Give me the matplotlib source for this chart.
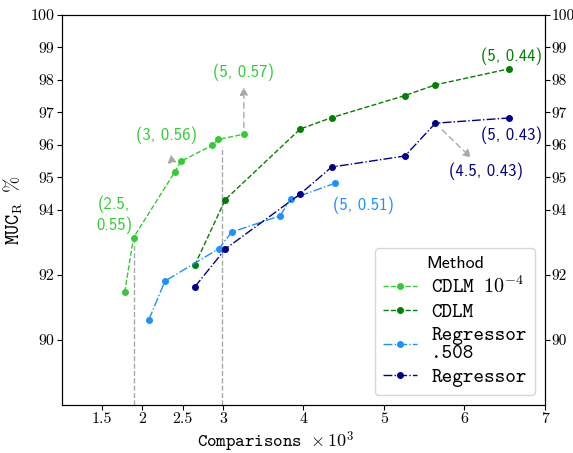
import matplotlib
matplotlib.use("Agg")
import matplotlib.pyplot as plt

plt.rcParams['mathtext.fontset'] = 'cm'
plt.rcParams['axes.formatter.use_mathtext'] = True
plt.rcParams['axes.unicode_minus'] = False

# comparisons (x 10^3) and MUC_R (%)
cdlm4_x = [1.78, 1.89, 2.40, 2.48, 2.87, 2.94, 3.26]
cdlm4_y = [91.47, 93.15, 95.16, 95.50, 95.99, 96.17, 96.33]
cdlm_x = [2.65, 3.03, 3.96, 4.35, 5.26, 5.64, 6.55]
cdlm_y = [92.30, 94.32, 96.49, 96.84, 97.52, 97.85, 98.34]
reg508_x = [2.08, 2.28, 2.95, 3.11, 3.71, 3.84, 4.39]
reg508_y = [90.62, 91.81, 92.81, 93.32, 93.82, 94.33, 94.82]
reg_x = [2.65, 3.03, 3.96, 4.35, 5.26, 5.64, 6.55]
reg_y = [91.63, 92.80, 94.49, 95.32, 95.66, 96.67, 96.83]

xticks = [1.5, 2, 2.5, 3, 4, 5, 6, 7]
yticks = [90, 92, 94, 95, 96, 97, 98, 99, 100]

fig = plt.figure(figsize=(5.73, 4.53), dpi=100)
ax = fig.add_axes([0.108, 0.106, 0.843, 0.861])

# guide lines
ax.plot([1.89, 1.89], [88, 93.15], color='darkgray', ls='--', lw=1, zorder=1)
ax.plot([2.99, 2.99], [88, 95.94], color='darkgray', ls='--', lw=1, zorder=1)

ax.plot(cdlm4_x, cdlm4_y, '--', marker='o', ms=4, lw=1, color='limegreen', label='CDLM $10^{-4}$')
ax.plot(cdlm_x, cdlm_y, '--', marker='o', ms=4, lw=1, color='green', label='CDLM')
ax.plot(reg508_x, reg508_y, '-.', marker='o', ms=4, lw=1, color='dodgerblue', label='Regressor\n.508')
ax.plot(reg_x, reg_y, '-.', marker='o', ms=4, lw=1, color='darkblue', label='Regressor')

arrow = dict(arrowstyle='-|>', color='darkgray', ls=(0, (4, 3)), lw=1, mutation_scale=12)
tfont = dict(family='cmss10', fontsize=12, ha='center', va='center')

ax.text(1.65, 93.85, '(2.5,\n0.55)', color='limegreen', **tfont)
ax.annotate('', xy=(2.35, 95.8), xytext=(2.37, 95.45), arrowprops=arrow)
ax.text(2.30, 96.3, '(3, 0.56)', color='limegreen', **tfont)
ax.annotate('', xy=(3.26, 97.87), xytext=(3.26, 96.45), arrowprops=arrow)
ax.text(3.26, 98.25, '(5, 0.57)', color='limegreen', **tfont)
ax.text(4.74, 94.15, '(5, 0.51)', color='dodgerblue', **tfont)
ax.text(6.59, 98.72, '(5, 0.44)', color='green', **tfont)
ax.text(6.58, 96.3, '(5, 0.43)', color='darkblue', **tfont)
ax.annotate('', xy=(6.11, 95.54), xytext=(5.70, 96.52), arrowprops=arrow)
ax.text(6.27, 95.18, '(4.5, 0.43)', color='darkblue', **tfont)

ax.set_xlim(1, 7)
ax.set_ylim(88, 100)
ax.set_xticks(xticks)
ax.set_xticklabels([str(t) for t in xticks], family='cmr10', fontsize=11.5)
ax.set_yticks(yticks)
ax.set_yticklabels([str(t) for t in yticks], family='cmr10', fontsize=11.5)
ax.tick_params(pad=2)

ax2 = ax.twinx()
ax2.set_ylim(88, 100)
ax2.set_yticks(yticks)
ax2.set_yticklabels([str(t) for t in yticks], family='cmr10', fontsize=11)
ax2.tick_params(pad=1)

ax.set_xlabel(r'Comparisons $\times\, 10^3$', family='cmtt10', fontsize=13)
ax.xaxis.set_label_coords(0.443, -0.062)
ax.set_ylabel(r'MUC$_\mathrm{R}$ $\%$', family='cmtt10', fontsize=14, labelpad=4)

leg = ax.legend(title='Method', loc='lower right', prop={'family': 'cmtt10', 'size': 14.5},
                handlelength=1.7, labelspacing=0.25, borderaxespad=0.5, handletextpad=0.7)
leg.get_title().set_family('cmss10')
leg.get_title().set_fontsize(13)
for t in leg.get_texts():
    t.set_linespacing(1.0)

fig.savefig('out.png', dpi=100)
